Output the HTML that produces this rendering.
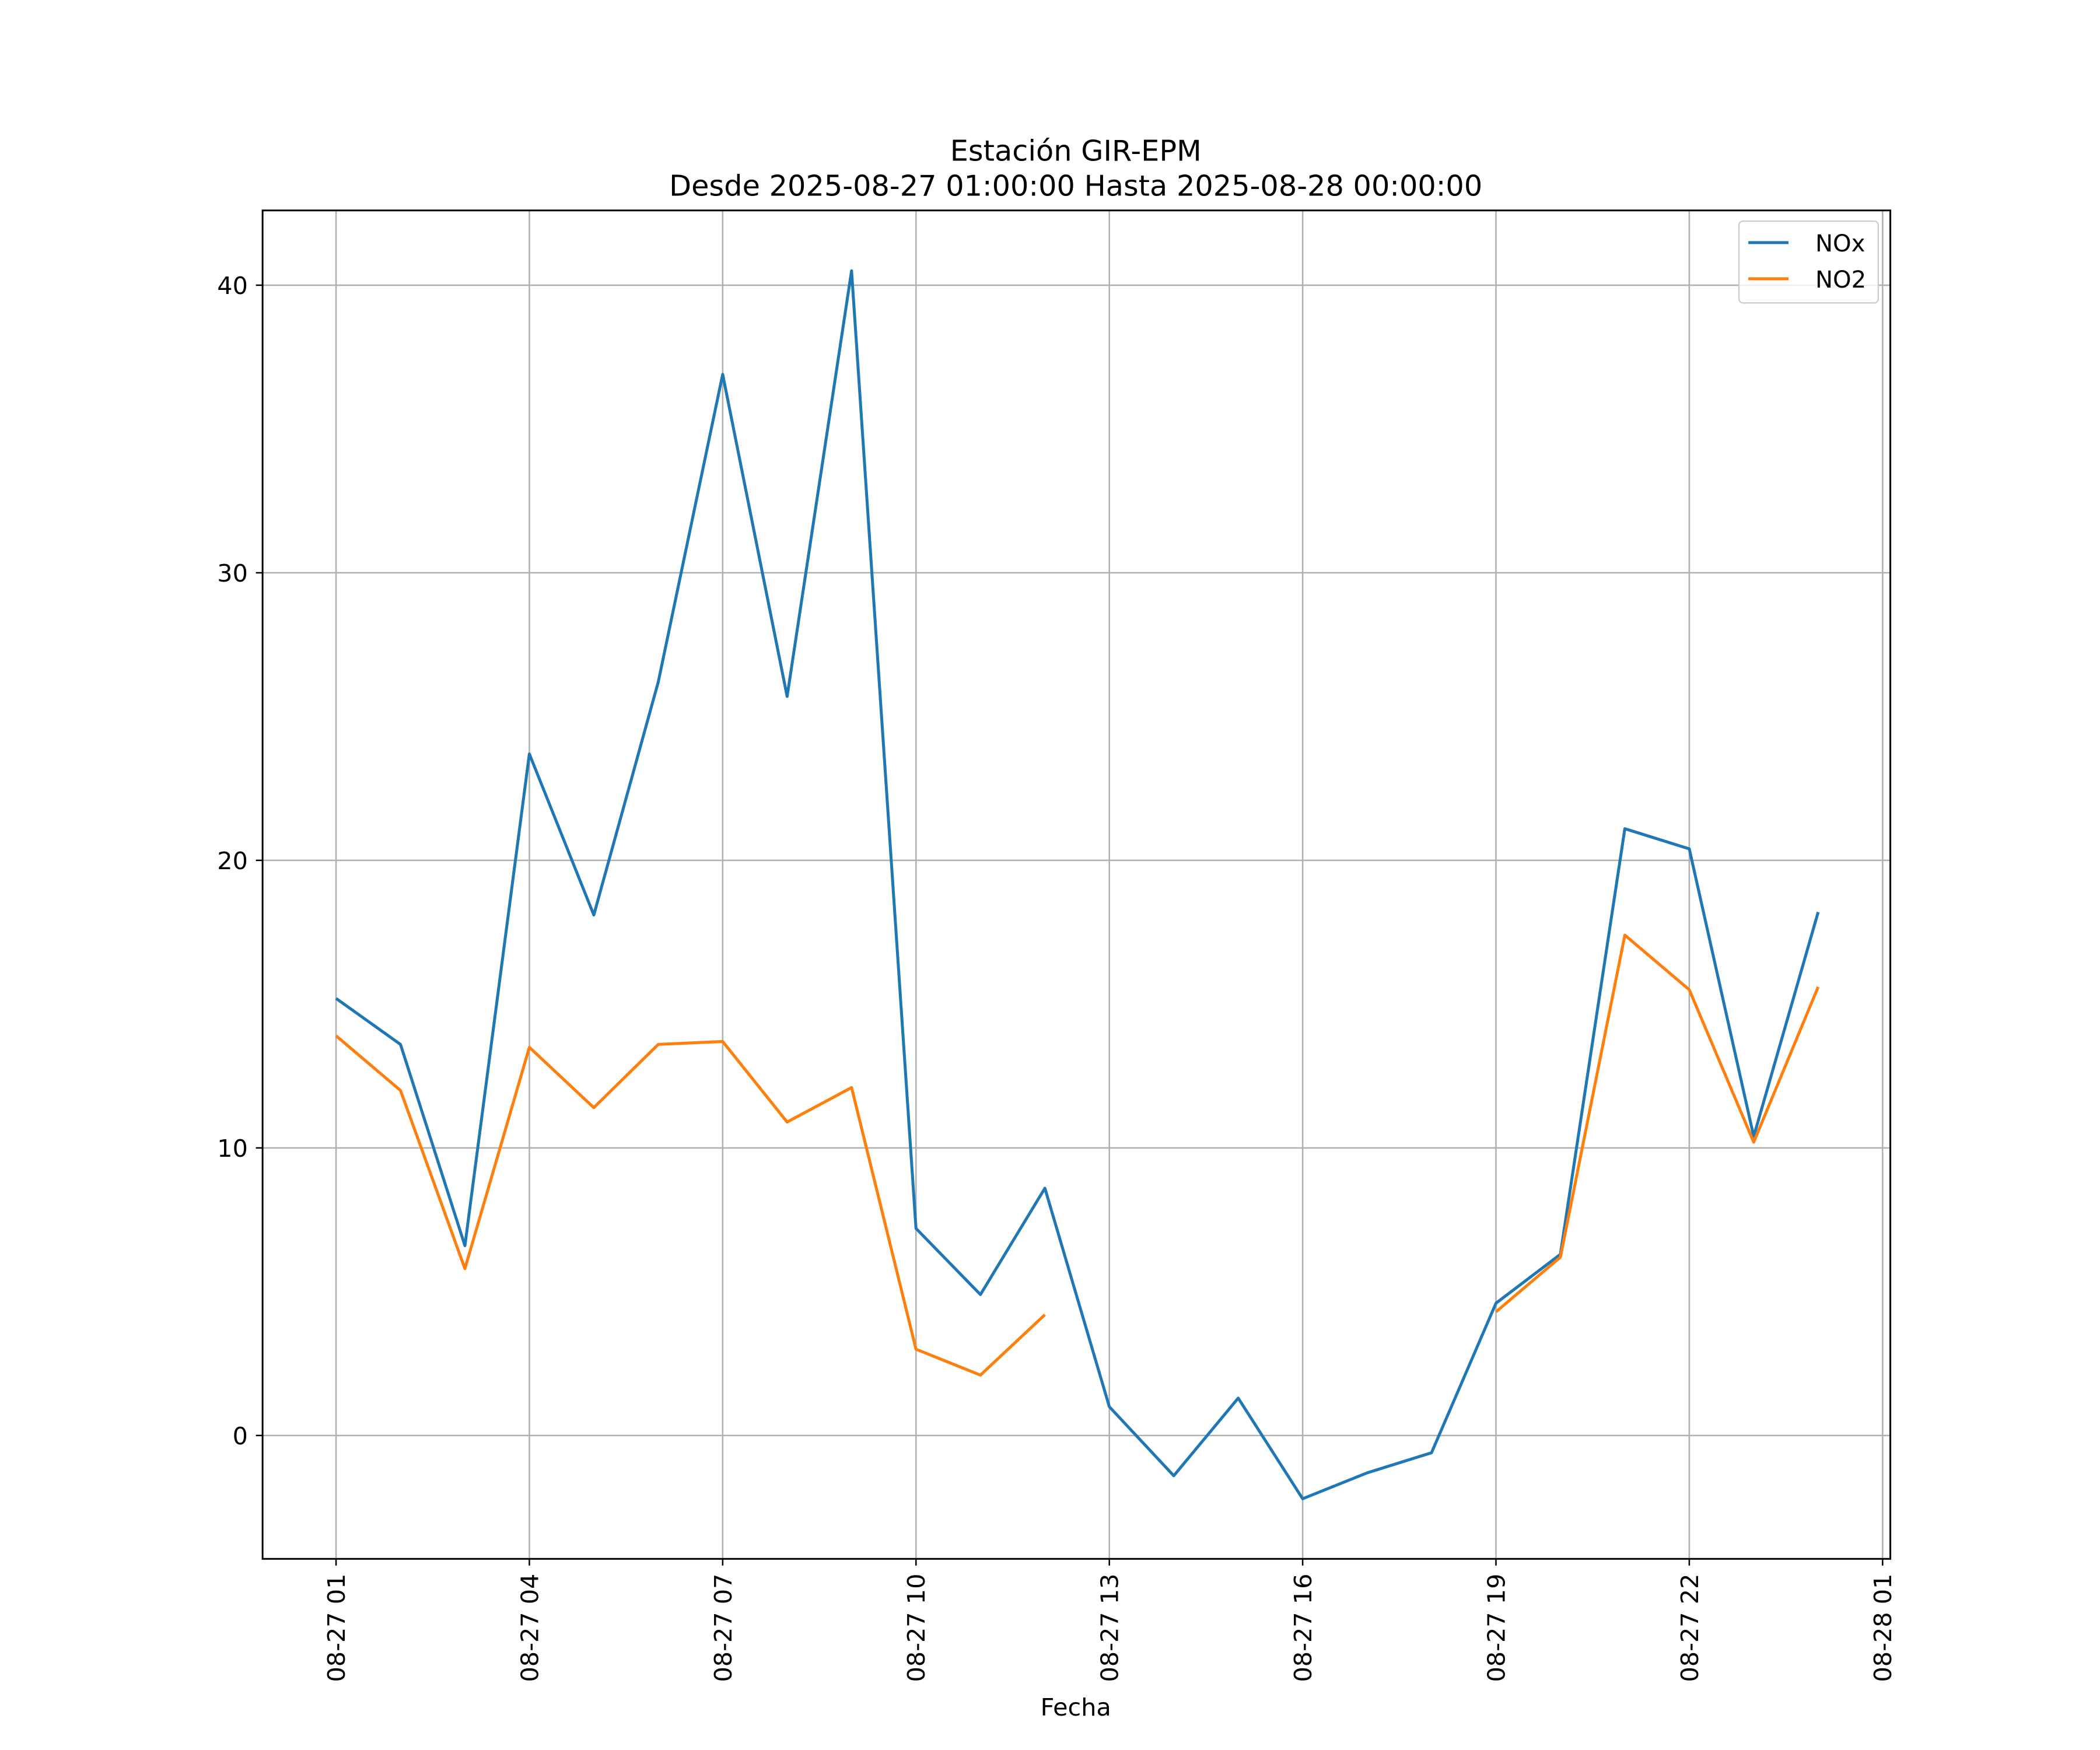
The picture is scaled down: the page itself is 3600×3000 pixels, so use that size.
<!DOCTYPE html>
<html><head><meta charset="utf-8"><style>
html,body{margin:0;padding:0;background:#fff;}
svg{display:block;}
text{font-family:"DejaVu Sans","Liberation Sans",sans-serif;fill:#000;}
</style></head>
<body>
<svg id="chart" width="3600" height="3000" viewBox="0 0 1567.5 1305.6" preserveAspectRatio="none" xmlns="http://www.w3.org/2000/svg">
<rect width="1567.5" height="1305.6" fill="#fff"/>
<g id="grid"></g>
<g id="series"></g>
<g id="axes"></g>
<text x="803" y="120" font-size="21.5" text-anchor="middle">Estación GIR-EPM</text>
<text x="803" y="146" font-size="21.5" text-anchor="middle">Desde 2025-08-27 01:00:00 Hasta 2025-08-28 00:00:00</text>
<text x="803" y="1280" font-size="18" text-anchor="middle">Fecha</text>
<g>
<rect x="1298" y="165" width="104" height="61" rx="3" fill="#fff" fill-opacity="0.8" stroke="#ccc"/>
<line x1="1305" y1="181" x2="1335" y2="181" stroke="#1f77b4" stroke-width="2.2"/>
<text x="1355" y="187.5" font-size="17.5">NOx</text>
<line x1="1305" y1="208" x2="1335" y2="208" stroke="#ff7f0e" stroke-width="2.2"/>
<text x="1355" y="214.5" font-size="17.5">NO2</text>
</g>
</svg>
<script>
const hours = [1,2,3,4,5,6,7,8,9,10,11,12,13,14,15,16,17,18,19,20,21,22,23,24];
const noxValues = [15.2,13.6,6.6,23.7,18.1,26.2,36.9,25.7,40.5,7.2,4.9,8.6,1.0,-1.4,1.3,-2.2,-1.3,-0.6,4.6,6.3,21.1,20.4,10.4,18.2];
const no2Values = [13.9,12.0,5.8,13.5,11.4,13.6,13.7,10.9,12.1,3.0,2.1,4.2,null,null,null,null,null,null,4.3,6.2,17.4,15.5,10.2,15.6];
const yTicks = [0,10,20,30,40];
const xTickHours = [1,4,7,10,13,16,19,22,25];
const xTickLabels = ["08-27 01","08-27 04","08-27 07","08-27 10","08-27 13","08-27 16","08-27 19","08-27 22","08-28 01"];

const L=196,R=1411,T=157,B=1163;
const yMin=-4.29,yMax=42.6;
const xMin=-0.14,xMax=25.12;
function xs(h){return L+(h-xMin)/(xMax-xMin)*(R-L);}
function ys(v){return B-(v-yMin)/(yMax-yMin)*(B-T);}
const NS="http://www.w3.org/2000/svg";
function mk(tag,attrs,parent){const e=document.createElementNS(NS,tag);for(const k in attrs)e.setAttribute(k,attrs[k]);parent.appendChild(e);return e;}
const grid=document.getElementById('grid'),axes=document.getElementById('axes'),series=document.getElementById('series');

yTicks.forEach(v=>{
  const y=ys(v);
  const g=mk('line',{x1:L,x2:R,y1:y,y2:y,stroke:'#b0b0b0','stroke-width':1.1},grid);
  
  
  mk('line',{x1:L-5,x2:L,y1:y,y2:y,stroke:'#000','stroke-width':1.1},axes);
  const t=mk('text',{x:L-11,y:y+6.5,'font-size':18,'text-anchor':'end'},axes);
  t.textContent=v;
  
  
});
xTickHours.forEach((h,i)=>{
  const x=xs(h);
  const g=mk('line',{x1:x,x2:x,y1:T,y2:B,stroke:'#b0b0b0','stroke-width':1.1},grid);
  
  
  mk('line',{x1:x,x2:x,y1:B,y2:B+5,stroke:'#000','stroke-width':1.1},axes);
  const t=mk('text',{x:0,y:0,'font-size':18,'text-anchor':'end',transform:`translate(${x+6.5},${B+11}) rotate(-90)`},axes);
  t.textContent=xTickLabels[i];
  
  
});
const frame=mk('rect',{x:L,y:T,width:R-L,height:B-T,fill:'none',stroke:'#000','stroke-width':1.3},axes);



function drawSeries(vals,color,name){
  let d='',pen=false;
  vals.forEach((v,i)=>{
    if(v===null){pen=false;return;}
    d+=(pen?'L':'M')+xs(hours[i]).toFixed(2)+','+ys(v).toFixed(2);
    pen=true;
  });
  const p=mk('path',{d:d,fill:'none',stroke:color,'stroke-width':2.2,'stroke-linejoin':'round'},series);
  
  
}
drawSeries(noxValues,'#1f77b4','nox-line');
drawSeries(no2Values,'#ff7f0e','no2-line');
</script>
</body></html>
